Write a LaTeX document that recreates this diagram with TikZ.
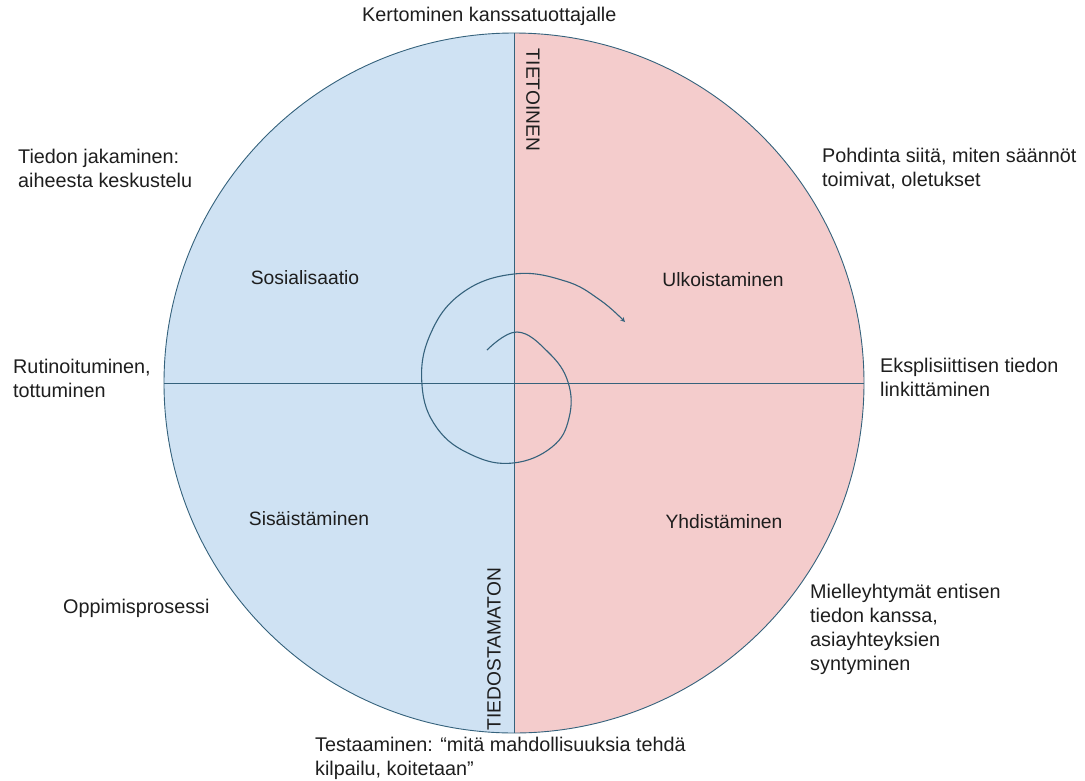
\documentclass[tikz,border=0pt]{standalone}
\usepackage{fontspec}
\setmainfont{Liberation Sans}
\usepackage{xcolor}
\usepackage{tikz}
\usetikzlibrary{shapes,arrows,positioning}

\definecolor{leftblue}{HTML}{CFE2F3}
\definecolor{rightpink}{HTML}{F4CCCC}
\definecolor{rim}{HTML}{35627C}
\definecolor{ink}{HTML}{1E1E1E}

\begin{document}
\begin{tikzpicture}[x=1pt, y=-1pt]
  % styles
  \tikzstyle{note}=[anchor=north west, inner sep=0pt, align=left, text=ink, font=\fontsize{19.8}{24}\selectfont]
  \tikzstyle{quadrant}=[inner sep=0pt, text=ink, font=\fontsize{19.3}{22}\selectfont]
  \tikzstyle{axis}=[inner sep=0pt, text=ink, font=\fontsize{19.2}{22}\selectfont]
  \tikzstyle{line} = [draw=rim, line width=0.9pt]
  \tikzstyle{spiral} = [draw=rim, line width=1.1pt, -stealth]

  \useasboundingbox (0,0) rectangle (1085,780);

  % the two halves
  \fill [leftblue] (514,33) arc [start angle=-90, end angle=-270, radius=350] -- cycle;
  \fill [rightpink] (514,33) arc [start angle=-90, end angle=90, radius=350] -- cycle;

  \node [circle, line, minimum size=700pt, inner sep=0pt] (wheel) at (514,383) {};
  \draw [line] (wheel.north) -- (wheel.south);
  \draw [line] (wheel.west) -- (wheel.east);

  % quadrants
  \node [quadrant] (socialisation) at (305,278) {Sosialisaatio};
  \node [quadrant] (externalisation) at (723,280) {Ulkoistaminen};
  \node [quadrant] (internalisation) at (309,519) {Sisäistäminen};
  \node [quadrant] (combination) at (724,522) {Yhdistäminen};

  \node [axis, rotate=-90] (aware) at (533,100) {TIETOINEN};
  \node [axis, rotate=90] (unaware) at (494,649) {TIEDOSTAMATON};

  % notes around the wheel
  \node [note] (telling) at (362,7) {Kertominen kanssatuottajalle};
  \node [note] (sharing) at (18,149) {Tiedon jakaminen:\\aiheesta keskustelu};
  \node [note] (reflecting) at (822,148) {Pohdinta siitä, miten säännöt\\toimivat, oletukset};
  \node [note] (routine) at (13,359) {Rutinoituminen,\\tottuminen};
  \node [note] (linking) at (880,358) {Eksplisiittisen tiedon\\linkittäminen};
  \node [note] (learning) at (63,599) {Oppimisprosessi};
  \node [note] (associating) at (810,584) {Mielleyhtymät entisen\\tiedon kanssa,\\asiayhteyksien\\syntyminen};
  \node [note] (testing) at (315,737) {Testaaminen: “mitä mahdollisuuksia tehdä\\kilpailu, koitetaan”};

  % spiral
  \coordinate (spiral_start) at (487,350);
  \coordinate (spiral_end) at (625,322);
  \draw [spiral] plot [smooth, tension=0.7] coordinates {
    (spiral_start) (517,332) (548,352) (568,382) (569,418) (552,447) (513,463)
    (472,455) (437,428) (422,385) (430,335) (462,293) (514,274) (565,281) (600,300) (spiral_end)
  };
\end{tikzpicture}
\end{document}
